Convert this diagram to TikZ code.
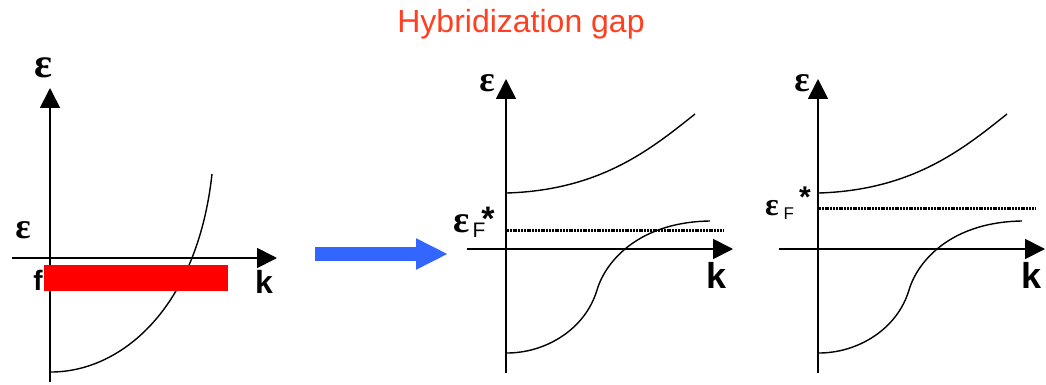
\documentclass[tikz,border=0pt]{standalone}
\usepackage{fontspec}
\setmainfont{Liberation Sans}
\newfontfamily\greekfont{Liberation Serif}
\usepackage{tikz}
\usetikzlibrary{arrows.meta}
\definecolor{titlered}{RGB}{255,64,32}
\definecolor{arrowblue}{RGB}{51,102,255}

\begin{document}
\begin{tikzpicture}[x=1pt, y=-1pt, every node/.style={inner sep=0pt},
  axis/.style={line width=1.8pt, -{Triangle[length=20pt, width=20pt]}},
  band/.style={line width=1.4pt},
  fermi/.style={line width=3pt, dash pattern=on 2pt off 0.8pt},
  eps/.style={font=\fontsize{#1}{#1}\selectfont\greekfont\bfseries},
  lbl/.style={font=\fontsize{#1}{#1}\selectfont\bfseries},
  sub/.style={font=\fontsize{#1}{#1}\selectfont}]
\useasboundingbox (0,0) rectangle (1046,385);
\node[sub=32, text=titlered, anchor=base] (title) at (521,33) {Hybridization gap};
% bare conduction band and flat f level
\coordinate (kA0) at (12,258);
\coordinate (kA1) at (277,258);
\coordinate (eA0) at (50,382);
\coordinate (eA1) at (50,88);
\draw[axis] (kA0) -- (kA1);
\draw[axis] (eA0) -- (eA1);
\draw[band] (51,372) .. controls (120,372) and (197,310) .. (212,174);
\fill[red] (44,265) rectangle (228,291);
\node[eps=42] (epsTopA) at (43,68) {ε};
\node[eps=36] (epsA) at (23,230) {ε};
\node[lbl=28] (fA) at (38,280) {f};
\node[lbl=32] (kA) at (264,282) {k};
\coordinate (shiftS) at (315,254);
\coordinate (shiftE) at (448,254);
\draw[arrowblue, line width=14pt, -{Triangle[length=32pt, width=29pt]}] (shiftS) -- (shiftE);
% hybridized bands
\foreach \dx/\nm in {0/B, 312/C} {
  \begin{scope}[xshift=\dx pt]
    \coordinate (k\nm0) at (467,249);
    \coordinate (k\nm1) at (733,249);
    \coordinate (e\nm0) at (506,373);
    \coordinate (e\nm1) at (506,79);
    \draw[axis] (k\nm0) -- (k\nm1);
    \draw[axis] (e\nm0) -- (e\nm1);
    \draw[band] (507,193) .. controls (600,190) and (650,150) .. (695,114);
    \draw[band] (507,353) .. controls (545,353) and (585,330) .. (597,290)
      .. controls (606,260) and (640,222) .. (710,221);
  \end{scope}
}
\coordinate (fermiB0) at (507,230);
\coordinate (fermiB1) at (723,230);
\draw[fermi] (fermiB0) -- (fermiB1);
\coordinate (fermiC0) at (819,208);
\coordinate (fermiC1) at (1036,208);
\draw[fermi] (fermiC0) -- (fermiC1);
\node[eps=36] (epsTopB) at (487,83) {ε};
\node[eps=38, anchor=east] (epsB) at (470,224) {ε};
\node[sub=21, anchor=west] (subB) at (472.5,230.5) {F};
\node[lbl=34, anchor=north] (supB) at (488,207) {*};
\node[lbl=36] (kB) at (716.5,275) {k};
\node[eps=36] (epsTopC) at (802,83) {ε};
\node[eps=32, anchor=east] (epsC) at (779,208) {ε};
\node[sub=17, anchor=west] (subC) at (783.5,213.5) {F};
\node[lbl=30, anchor=north] (supC) at (805,187) {*};
\node[lbl=36] (kC) at (1031,275) {k};
\end{tikzpicture}
\end{document}
